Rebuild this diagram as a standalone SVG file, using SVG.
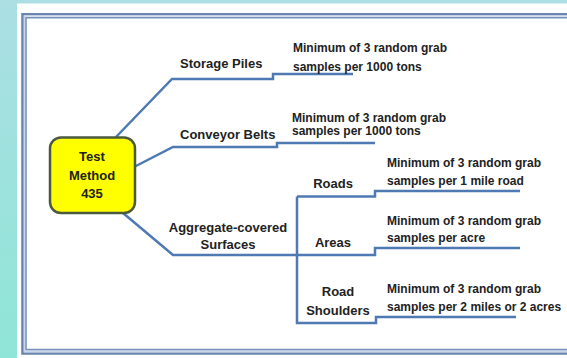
<svg xmlns="http://www.w3.org/2000/svg" width="567" height="358" viewBox="0 0 567 358">
<defs>
<linearGradient id="bg" x1="0" y1="0" x2="0" y2="1">
<stop offset="0" stop-color="#abdfe3"/>
<stop offset="1" stop-color="#8fe5d7"/>
</linearGradient>
<style>
.t{font-family:"Liberation Sans",Arial,sans-serif;font-weight:bold;fill:#222;}
.lbl{font-size:13px;}
.desc{font-size:12px;}
.c{text-anchor:middle;}
.conn path{fill:none;stroke:#4e79b2;stroke-width:2.5;stroke-linejoin:miter;}
</style>
</defs>
<rect x="0" y="0" width="567" height="358" fill="url(#bg)"/>
<rect x="17" y="3.5" width="550" height="354.5" fill="#ffffff"/>
<g id="frame" fill="none">
<path d="M567 14.3 H22.5 V353.5 H567" stroke="#6c85b0" stroke-width="2.6"/>
<path d="M567 16 H24.4 V351.8 H567" stroke="#c9d5e8" stroke-width="1.4"/>
<path d="M567 17.7 H26 V349.6 H567" stroke="#7891bb" stroke-width="1.6"/>
</g>
<g id="connectors" class="conn">
<path d="M116 137 L172 79 H273 V74 H353"/>
<path d="M134 167 L173 147 H277 V143 H375"/>
<path d="M123 213 L173 255 H375 V248 H520"/>
<path d="M297 196.5 V323 H376 V317 H516"/>
<path d="M297 196.5 H375 V191 H520"/>
</g>
<g id="node-test-method">
<rect x="50" y="137.5" width="85" height="75.5" rx="11" fill="#ffff00" stroke="#4b5a3c" stroke-width="2.5"/>
<text class="t lbl c" x="92" y="161">Test</text>
<text class="t lbl c" x="92" y="180">Method</text>
<text class="t lbl c" x="92" y="198">435</text>
</g>
<g id="node-storage-piles">
<text class="t lbl" x="180" y="68">Storage Piles</text>
<text class="t desc" x="293" y="52">Minimum of 3 random grab</text>
<text class="t desc" x="293" y="71">samples per 1000 tons</text>
</g>
<g id="node-conveyor-belts">
<text class="t lbl" x="180" y="139">Conveyor Belts</text>
<text class="t desc" x="292" y="122">Minimum of 3 random grab</text>
<text class="t desc" x="292" y="135">samples per 1000 tons</text>
</g>
<g id="node-aggregate">
<text class="t lbl c" x="228" y="232">Aggregate-covered</text>
<text class="t lbl c" x="228" y="249">Surfaces</text>
</g>
<g id="node-roads">
<text class="t lbl c" x="333" y="188">Roads</text>
<text class="t desc" x="387" y="167">Minimum of 3 random grab</text>
<text class="t desc" x="387" y="185">samples per 1 mile road</text>
</g>
<g id="node-areas">
<text class="t lbl c" x="333" y="247">Areas</text>
<text class="t desc" x="387" y="225">Minimum of 3 random grab</text>
<text class="t desc" x="387" y="242">samples per acre</text>
</g>
<g id="node-road-shoulders">
<text class="t lbl c" x="338" y="296">Road</text>
<text class="t lbl c" x="338" y="315">Shoulders</text>
<text class="t desc" x="387" y="293">Minimum of 3 random grab</text>
<text class="t desc" x="387" y="311">samples per 2 miles or 2 acres</text>
</g>
</svg>
